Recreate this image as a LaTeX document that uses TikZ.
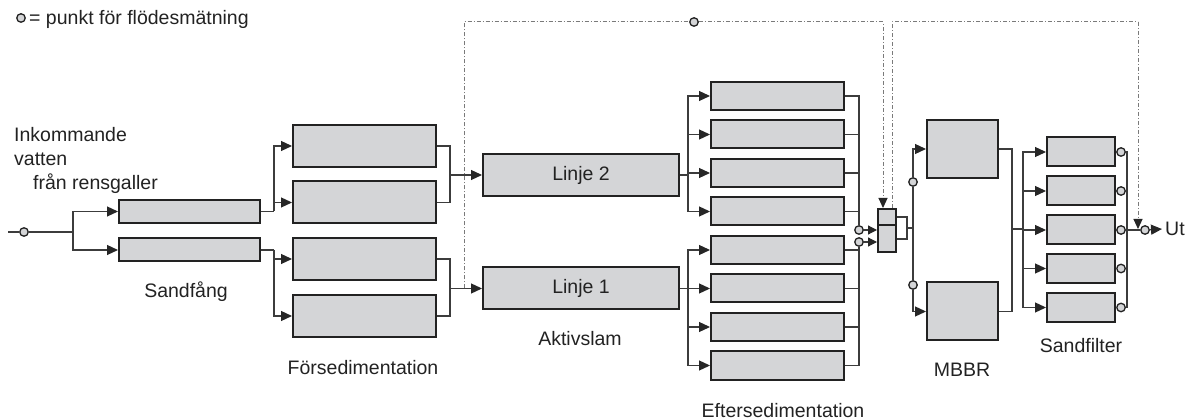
\documentclass[tikz,border=0pt]{standalone}
\usepackage{fontspec}
\setmainfont{Liberation Sans}
\usetikzlibrary{arrows.meta}
\definecolor{boxfill}{HTML}{D4D5D7}
\definecolor{boxline}{HTML}{222222}
\definecolor{conn}{HTML}{3C3C3C}
\definecolor{dashc}{HTML}{7A7A7A}
\definecolor{txt}{HTML}{222222}
\begin{document}
\begin{tikzpicture}[x=1pt,y=-1pt,
  box/.style={draw=boxline, fill=boxfill, line width=2pt, inner sep=0pt},
  conn/.style={draw=conn, line width=1.2pt},
  arrow/.style={conn, -{Triangle[length=11pt,width=10pt,color=black!85]}},
  sarrow/.style={conn, -{Triangle[length=9pt,width=9pt,color=black!85]}},
  dashl/.style={draw=dashc, line width=1pt, dash pattern=on 4pt off 2pt on 1pt off 2pt},
  meas/.style={circle, draw=boxline, fill=boxfill, line width=1.3pt, minimum size=8.5pt, inner sep=0pt},
  lbl/.style={font=\fontsize{19.5}{23}\selectfont, text=txt, inner sep=0pt},
  sfbox/.style={box, minimum width=141, minimum height=23},
  fsbox/.style={box, minimum width=143, minimum height=42},
  libox/.style={box, minimum width=196, minimum height=42, font=\fontsize{19.5}{23}\selectfont, text=txt},
  esbox/.style={box, minimum width=133, minimum height=28},
  mbbox/.style={box, minimum width=71, minimum height=58},
  sfilbox/.style={box, minimum width=68, minimum height=29}
]
\useasboundingbox (0,0) rectangle (1191,419);

% ---------- legend ----------
\node[meas] (legc) at (21,18) {};
\node[lbl, anchor=base west] (leg) at (29,25) {= punkt för flödesmätning};

% ---------- input text ----------
\node[lbl, anchor=base west] (t1) at (14,142) {Inkommande};
\node[lbl, anchor=base west] (t2) at (14,166) {vatten};
\node[lbl, anchor=base west] (t3) at (33,190) {från rensgaller};

% ---------- boxes ----------
\node[sfbox] (sf1) at (189.5,211.5) {};
\node[sfbox] (sf2) at (189.5,250) {};
\node[fsbox] (fs1) at (364.5,146) {};
\node[fsbox] (fs2) at (364.5,202.5) {};
\node[fsbox] (fs3) at (364.5,259) {};
\node[fsbox] (fs4) at (364.5,316) {};
\node[libox] (L2) at (581,175) {Linje 2};
\node[libox] (L1) at (581,288.5) {Linje 1};
\foreach \i/\y in {1/96,2/134.5,3/173,4/211.5,5/250,6/288.5,7/327,8/365.5}
  \node[esbox] (es\i) at (777.5,\y) {};
\node[box, minimum width=18, minimum height=16] (mixt) at (887,217) {};
\node[box, minimum width=18, minimum height=27] (mixb) at (887,238.5) {};
\node[mbbox] (mb1) at (962.5,149) {};
\node[mbbox] (mb2) at (962.5,311.5) {};
\foreach \i/\y in {1/152,2/191,3/230,4/268.5,5/307.5}
  \node[sfilbox] (sfl\i) at (1081,\y) {};

% ---------- labels ----------
\node[lbl, anchor=base] (lsand) at (186,298) {Sandfång};
\node[lbl, anchor=base] (lfors) at (363,374) {Försedimentation};
\node[lbl, anchor=base] (lakt) at (580,345) {Aktivslam};
\node[lbl, anchor=base] (left) at (783,417) {Eftersedimentation};
\node[lbl, anchor=base] (lmbbr) at (962,377) {MBBR};
\node[lbl, anchor=base] (lsfil) at (1081,353) {Sandfilter};

% ---------- input ----------
\coordinate (in0) at (8,232);
\node[meas] (c0) at (24,232) {};
\coordinate (sp0) at (73,232);
\draw[conn] (in0) -- (c0);
\draw[conn] (c0) -- (sp0);
\draw[arrow] (sp0) |- (sf1.west);
\draw[arrow] (sp0) |- (sf2.west);

% ---------- sandfång -> försedimentation ----------
\coordinate (ja) at (274,211.5);
\coordinate (jb) at (274,250);
\draw[conn] (sf1.east) -- (ja);
\draw[conn] (sf2.east) -- (jb);
\draw[arrow] (ja) |- (fs1.west);
\draw[arrow] (ja) |- (fs2.west);
\draw[arrow] (jb) |- (fs3.west);
\draw[arrow] (jb) |- (fs4.west);

% ---------- försedimentation -> linjer ----------
\coordinate (j2) at (450,175);
\coordinate (j1) at (450,288.5);
\draw[conn] (fs1.east) -| (j2);
\draw[conn] (fs2.east) -| (j2);
\draw[conn] (fs3.east) -| (j1);
\draw[conn] (fs4.east) -| (j1);
\draw[arrow] (j2) -- (L2.west);
\draw[arrow] (j1) -- (L1.west);

% ---------- linjer -> eftersedimentation ----------
\coordinate (d2) at (688,175);
\coordinate (d1) at (688,288.5);
\draw[conn] (L2.east) -- (d2);
\draw[conn] (L1.east) -- (d1);
\foreach \i in {1,2,3,4} \draw[arrow] (d2) |- (es\i.west);
\foreach \i in {5,6,7,8} \draw[arrow] (d1) |- (es\i.west);

% ---------- eftersedimentation -> blandning ----------
\node[meas] (cm2) at (859,230) {};
\node[meas] (cm1) at (859,242) {};
\foreach \i in {1,2,3,4} \draw[conn] (es\i.east) -| (cm2);
\foreach \i in {5,6,7,8} \draw[conn] (es\i.east) -| (cm1);
\draw[sarrow] (cm2) -- (cm2 -| mixb.west);
\draw[sarrow] (cm1) -- (cm1 -| mixb.west);

% ---------- blandning -> MBBR ----------
\coordinate (br1) at (907,217);
\coordinate (br2) at (907,239);
\coordinate (brm) at (907,228);
\coordinate (mv) at (913,228);
\draw[conn] (mixt.east |- br1) -- (br1) -- (br2) -- (mixb.east |- br2);
\draw[conn] (brm) -- (mv);
\node[meas] (cmb1) at (913,182) {};
\node[meas] (cmb2) at (913,285) {};
\draw[conn] (mv) -- (cmb1);
\draw[conn] (mv) -- (cmb2);
\draw[arrow] (cmb1) |- (mb1.west);
\draw[arrow] (cmb2) |- (mb2.west);

% ---------- MBBR -> sandfilter ----------
\coordinate (jm) at (1012,229);
\coordinate (ds) at (1023,229);
\draw[conn] (mb1.east) -| (jm);
\draw[conn] (mb2.east) -| (jm);
\draw[conn] (jm) -- (ds);
\foreach \i in {1,...,5} \draw[arrow] (ds) |- (sfl\i.west);

% ---------- sandfilter -> ut ----------
\coordinate (os) at (1127,230);
\foreach \i/\y in {1/152,2/191,3/230,4/268.5,5/307.5} {
  \node[meas] (cs\i) at (1121,\y) {};
  \draw[conn] (sfl\i.east) -- (cs\i);
  \draw[conn] (cs\i) -| (os);
}
\node[meas] (cut) at (1145,230) {};
\node[lbl, anchor=west, inner sep=3pt] (ut) at (1162,229) {Ut};
\draw[conn] (os) -- (cut);
\draw[arrow] (cut) -- (ut.west);

% ---------- flödesmätning (streckprickat) ----------
\coordinate (q0) at (464,288.5);
\node[meas] (cd) at (694,22) {};
\coordinate (xa) at (883,0);
\coordinate (xb) at (892,0);
\coordinate (cr2) at (1138,22);
\coordinate (dtip) at (1138,229);
\draw[dashl] (q0) |- (cd);
\draw[dashl, -{Triangle[length=10pt,width=9pt,color=black!85]}] (cd) -| (xa |- mixt.north);
\draw[dashl] (xb |- mixt.north) |- (cr2);
\draw[dashl, -{Triangle[length=10pt,width=9pt,color=black!85]}] (cr2) -- (dtip);
\end{tikzpicture}
\end{document}
